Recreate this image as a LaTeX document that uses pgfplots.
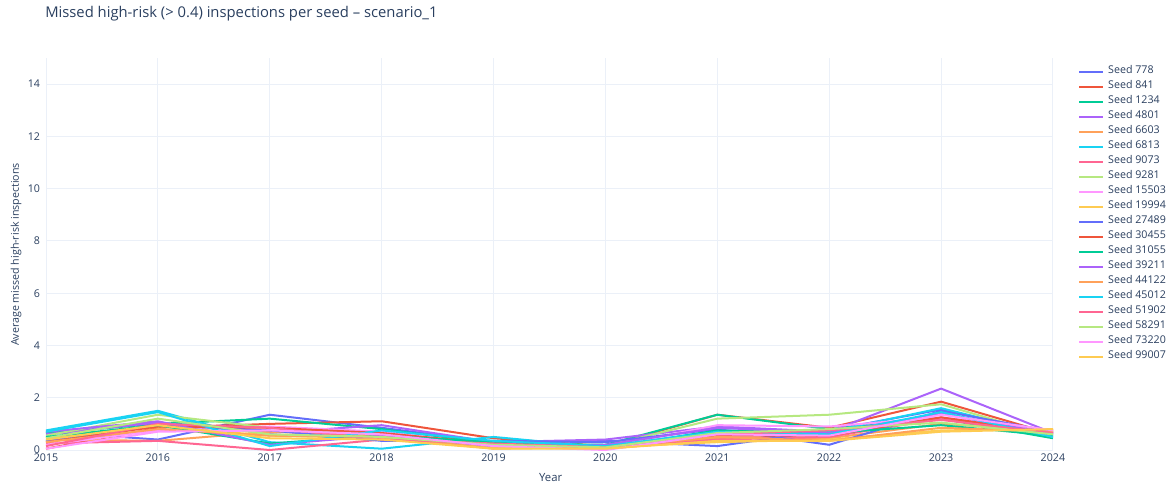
\documentclass[border=0pt]{standalone}
\usepackage{pgfplots}
\pgfplotsset{compat=1.18}
\usepackage{fontspec}
\setmainfont{Open Sans}

\definecolor{txt}{HTML}{2A3F5F}
\definecolor{gridc}{HTML}{EBF0F8}
\definecolor{p1}{HTML}{636EFA}
\definecolor{p2}{HTML}{EF553B}
\definecolor{p3}{HTML}{00CC96}
\definecolor{p4}{HTML}{AB63FA}
\definecolor{p5}{HTML}{FFA15A}
\definecolor{p6}{HTML}{19D3F3}
\definecolor{p7}{HTML}{FF6692}
\definecolor{p8}{HTML}{B6E880}
\definecolor{p9}{HTML}{FF97FF}
\definecolor{p10}{HTML}{FECB52}

% average missed high-risk inspections, one column per seed
\pgfplotstableread{
year s778 s841 s1234 s4801 s6603 s6813 s9073 s9281 s15503 s19994 s27489 s30455 s31055 s39211 s44122 s45012 s51902 s58291 s73220 s99007
2015 0.70 0.05 0.65 0.60 0.40 0.75 0.25 0.55 0.20 0.45 0.35 0.30 0.50 0.70 0.30 0.70 0.15 0.45 0.05 0.40
2016 0.40 0.85 1.00 1.05 0.35 1.50 0.35 1.35 0.75 0.90 0.95 0.90 0.95 1.10 0.80 1.45 1.00 1.20 0.70 0.95
2017 1.35 1.00 1.20 0.65 0.70 0.30 0.00 0.85 0.90 0.55 0.75 0.85 0.25 0.20 0.55 0.15 0.85 0.60 0.75 0.45
2018 0.85 1.10 0.80 0.95 0.55 0.05 0.40 0.60 0.70 0.45 0.35 0.65 0.55 0.55 0.50 0.75 0.40 0.50 0.60 0.40
2019 0.30 0.45 0.25 0.30 0.10 0.50 0.20 0.15 0.20 0.10 0.35 0.25 0.30 0.15 0.05 0.35 0.25 0.20 0.15 0.05
2020 0.35 0.15 0.20 0.40 0.05 0.10 0.05 0.15 0.10 0.10 0.30 0.05 0.05 0.20 0.10 0.15 0.10 0.10 0.00 0.05
2021 0.15 1.35 1.35 0.90 0.45 0.75 0.40 1.20 0.95 0.30 0.80 0.55 0.75 0.85 0.50 0.70 0.60 0.65 0.60 0.35
2022 0.75 0.85 0.80 0.70 0.45 0.70 0.50 1.35 0.90 0.40 0.20 0.55 0.65 0.65 0.35 0.60 0.75 0.80 0.55 0.35
2023 1.55 1.85 1.20 2.35 1.00 1.60 1.20 1.75 1.25 0.75 1.50 1.25 0.95 1.40 0.85 1.45 1.15 1.05 1.35 0.70
2024 0.60 0.60 0.45 0.65 0.75 0.55 0.70 0.50 0.75 0.80 0.70 0.65 0.55 0.60 0.70 0.50 0.65 0.60 0.75 0.80
}\seeds

\begin{document}
\begin{tikzpicture}
\path[use as bounding box] (0,0) rectangle (877.5pt,365.25pt);
\begin{axis}[
  at={(34.5pt,27.75pt)}, anchor=south west,
  scale only axis, width=755.25pt, height=294pt,
  xmin=2015, xmax=2024, ymin=0, ymax=15,
  xtick={2015,...,2024}, ytick={0,2,...,14},
  xticklabel style={/pgf/number format/1000 sep={}},
  /pgf/number format/assume math mode=true,
  tick label style={font=\fontsize{8}{10}\selectfont, text=txt},
  xticklabel style={yshift=1pt},
  yticklabel style={xshift=-1pt},
  axis line style={draw=none},
  major tick length=0pt,
  grid=major, major grid style={gridc, line width=0.75pt},
  clip=false,
  every axis plot/.append style={line width=1.5pt, line join=round},
  legend cell align=left,
  legend image code/.code={\draw[#1] (0pt,0pt) -- (18pt,0pt);},
  legend style={at={(rel axis cs:1.0248,0.985)}, anchor=north west,
    draw=none, fill=none, inner sep=0pt, row sep=0pt,
    font=\fontsize{8}{10}\selectfont, text=txt,
    nodes={inner sep=0pt, text height=7.3pt, text depth=3.95pt},
    /tikz/every odd column/.append style={column sep=3pt}},
]
\addplot[p1]  table[x=year,y=s778]{\seeds};   \addlegendentry{Seed 778}
\addplot[p2]  table[x=year,y=s841]{\seeds};   \addlegendentry{Seed 841}
\addplot[p3]  table[x=year,y=s1234]{\seeds};  \addlegendentry{Seed 1234}
\addplot[p4]  table[x=year,y=s4801]{\seeds};  \addlegendentry{Seed 4801}
\addplot[p5]  table[x=year,y=s6603]{\seeds};  \addlegendentry{Seed 6603}
\addplot[p6]  table[x=year,y=s6813]{\seeds};  \addlegendentry{Seed 6813}
\addplot[p7]  table[x=year,y=s9073]{\seeds};  \addlegendentry{Seed 9073}
\addplot[p8]  table[x=year,y=s9281]{\seeds};  \addlegendentry{Seed 9281}
\addplot[p9]  table[x=year,y=s15503]{\seeds}; \addlegendentry{Seed 15503}
\addplot[p10] table[x=year,y=s19994]{\seeds}; \addlegendentry{Seed 19994}
\addplot[p1]  table[x=year,y=s27489]{\seeds}; \addlegendentry{Seed 27489}
\addplot[p2]  table[x=year,y=s30455]{\seeds}; \addlegendentry{Seed 30455}
\addplot[p3]  table[x=year,y=s31055]{\seeds}; \addlegendentry{Seed 31055}
\addplot[p4]  table[x=year,y=s39211]{\seeds}; \addlegendentry{Seed 39211}
\addplot[p5]  table[x=year,y=s44122]{\seeds}; \addlegendentry{Seed 44122}
\addplot[p6]  table[x=year,y=s45012]{\seeds}; \addlegendentry{Seed 45012}
\addplot[p7]  table[x=year,y=s51902]{\seeds}; \addlegendentry{Seed 51902}
\addplot[p8]  table[x=year,y=s58291]{\seeds}; \addlegendentry{Seed 58291}
\addplot[p9]  table[x=year,y=s73220]{\seeds}; \addlegendentry{Seed 73220}
\addplot[p10] table[x=year,y=s99007]{\seeds}; \addlegendentry{Seed 99007}
\end{axis}
\node[anchor=west, text=txt, font=\fontsize{11.1}{13}\selectfont, inner sep=0pt]
  at (33.75pt,354.75pt) {Missed high-risk (> 0.4) inspections per seed – scenario\_1};
\node[text=txt, font=\fontsize{8.5}{10}\selectfont, inner sep=0pt]
  at (413pt,6.75pt) {Year};
\node[text=txt, font=\fontsize{8}{10}\selectfont, inner sep=0pt, rotate=90]
  at (12pt,174.4pt) {Average missed high-risk inspections};
\end{tikzpicture}
\end{document}
